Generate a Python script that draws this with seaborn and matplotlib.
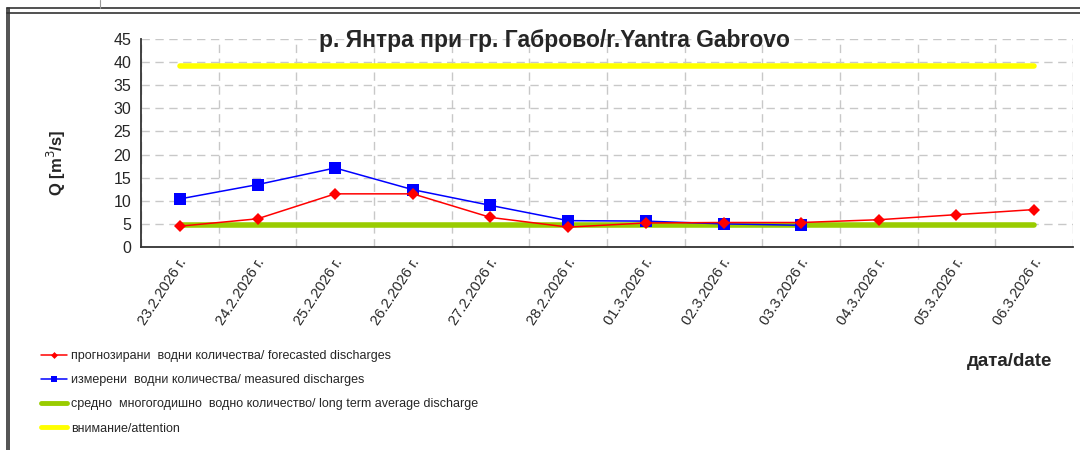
import numpy as np
import pandas as pd
import matplotlib
matplotlib.use("Agg")
import matplotlib.pyplot as plt
import matplotlib.transforms as mtransforms
from matplotlib.lines import Line2D
import seaborn as sns

# ---- data ----
dates = ["23.2.2026 г.", "24.2.2026 г.", "25.2.2026 г.", "26.2.2026 г.",
         "27.2.2026 г.", "28.2.2026 г.", "01.3.2026 г.", "02.3.2026 г.",
         "03.3.2026 г.", "04.3.2026 г.", "05.3.2026 г.", "06.3.2026 г."]
forecasted = [4.5, 6.1, 11.5, 11.5, 6.4, 4.3, 5.2, 5.3, 5.3, 5.9, 7.0, 8.1]
measured = [10.4, 13.5, 17.1, 12.4, 9.0, 5.7, 5.6, 5.0, 4.7, np.nan, np.nan, np.nan]
long_term_avg = [4.7] * 12
attention = [39.2] * 12

lbl_fc = "прогнозирани  водни количества/ forecasted discharges"
lbl_ms = "измерени  водни количества/ measured discharges"
lbl_avg = "средно  многогодишно  водно количество/ long term average discharge"
lbl_att = "внимание/attention"
title = "р. Янтра при гр. Габрово/r.Yantra Gabrovo"

sns.set_style("white")
plt.rcParams['font.family'] = ['Liberation Sans', 'DejaVu Sans']

df = pd.DataFrame({"x": np.arange(len(dates)), "fc": forecasted, "ms": measured,
                   "avg": long_term_avg, "att": attention})

fig = plt.figure(figsize=(10.8, 4.5), dpi=100)
ax = fig.add_axes([141/1080, 1-247/450, 932/1080, 208/450])

sns.lineplot(data=df, x="x", y="att", ax=ax, color="#FFFF00", lw=4, zorder=2, label=lbl_att)
sns.lineplot(data=df, x="x", y="avg", ax=ax, color="#99CC00", lw=4, zorder=3, label=lbl_avg)
sns.lineplot(data=df, x="x", y="ms", ax=ax, color="#0000FF", lw=1.1, marker="s",
             markersize=8, markeredgewidth=0, zorder=4, label=lbl_ms)
sns.lineplot(data=df, x="x", y="fc", ax=ax, color="#FF0000", lw=1.1, marker="D",
             markersize=6.5, markeredgewidth=0, zorder=5, label=lbl_fc)
ax.get_legend().remove()

ax.set_xlim(-0.5, len(dates) - 0.5)
ax.set_ylim(0, 45)
ax.set_yticks(np.arange(0, 46, 5))
ax.set_xticks(np.arange(len(dates)))
ax.set_xticklabels(dates, rotation=57, ha="right", va="center", rotation_mode="anchor", fontsize=10.5)
ax.set_xticks(np.arange(len(dates) + 1) - 0.5, minor=True)
ax.tick_params(axis="x", which="major", length=0, pad=9)
ax.tick_params(axis="x", which="minor", length=5, width=1, color="#333333", direction="out")
ax.tick_params(axis="y", length=5, width=1, color="#333333", direction="out", labelsize=11.5, pad=2)
offset = mtransforms.ScaledTranslation(4/100, 0, fig.dpi_scale_trans)
for lab in ax.get_xticklabels():
    lab.set_transform(lab.get_transform() + offset)
ax.yaxis.grid(True, color="#C8C8C8", ls=(0, (6, 4)), lw=1)
ax.xaxis.grid(True, which="minor", color="#C8C8C8", ls=(0, (6, 4)), lw=1)
ax.xaxis.grid(False, which="major")
for s in ["top", "right"]:
    ax.spines[s].set_visible(False)
for s in ["left", "bottom"]:
    ax.spines[s].set_color("#333333")
    ax.spines[s].set_linewidth(1.3)
ax.set_xlabel("")
ax.set_ylabel("")
fig.text(56/1080, 1-163/450, "Q [m$^3$/s]", fontsize=12, fontweight="bold",
         rotation=90, ha="center", va="center")

fig.text(554/1080, 1-40/450, title, fontsize=16.5, fontweight="bold", ha="center", va="center")
fig.text(1052/1080, 1-362/450, "дата/date", fontsize=13.5, fontweight="bold", ha="right", va="center")

handles = [Line2D([], [], color="#FF0000", lw=1.1, marker="D", markersize=3.5, markeredgewidth=0),
           Line2D([], [], color="#0000FF", lw=1.1, marker="s", markersize=4, markeredgewidth=0),
           Line2D([], [], color="#99CC00", lw=3.5),
           Line2D([], [], color="#FFFF00", lw=3.5)]
fig.legend(handles, [lbl_fc, lbl_ms, lbl_avg, lbl_att], loc="upper left",
           bbox_to_anchor=(36/1080, 1-345/450), frameon=False, fontsize=9.0,
           handlelength=2.1, handletextpad=0.3, labelspacing=0.98, borderaxespad=0)

# outer frame lines
for y in (7.5, 12.5):
    fig.add_artist(Line2D([7/1080, 1], [1-y/450, 1-y/450], color="#333333", lw=1.2))
for x in (6.5, 9.0):
    fig.add_artist(Line2D([x/1080, x/1080], [0, 1-7.5/450], color="#333333", lw=1.2))
fig.add_artist(Line2D([100/1080, 100/1080], [1, 1-8/450], color="#999999", lw=0.8))

fig.savefig("out.png", dpi=100)
